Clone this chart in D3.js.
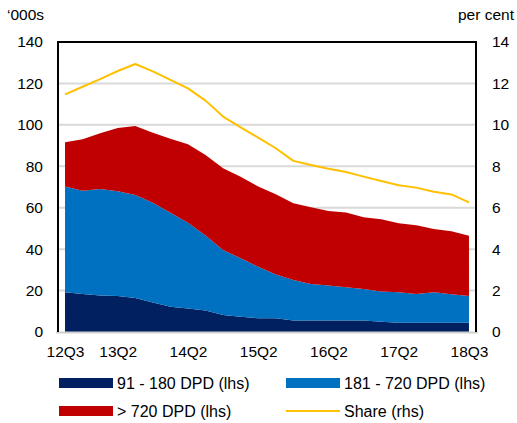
<!DOCTYPE html>
<html>
<head>
<meta charset="utf-8">
<script src="https://cdn.jsdelivr.net/npm/d3@7"></script>
<style>
  body { margin: 0; background: #fff; }
  text { font-family: "Liberation Sans", Arial, sans-serif; fill: #000; }
</style>
</head>
<body>
<svg id="chart"></svg>
<script>
// quarters shown on the chart (last point is labelled 18Q3 in the source)
const quarters = ["12Q3","12Q4","13Q1","13Q2","13Q3","13Q4","14Q1","14Q2","14Q3","14Q4",
  "15Q1","15Q2","15Q3","15Q4","16Q1","16Q2","16Q3","16Q4","17Q1","17Q2","17Q3","17Q4","18Q1","18Q3"];
const tickLabels = ["12Q3","13Q2","14Q2","15Q2","16Q2","17Q2","18Q3"];

// '000s, left axis
const dpd91to180 = [19.2,18.3,17.6,17.4,16.4,14.3,12.2,11.4,10.4,8.2,7.4,6.6,6.6,5.5,5.5,5.5,5.5,5.5,5.0,4.5,4.5,4.5,4.5,4.5];
const dpd181to720 = [51.0,49.9,51.4,50.6,49.7,48.1,45.4,41.4,36.2,31.4,28.2,24.9,21.2,19.6,17.7,16.9,16.1,15.3,14.5,14.7,13.8,14.7,13.7,12.9];
const dpdOver720 = [21.4,24.8,27.0,30.5,33.4,33.8,35.7,37.8,38.8,39.4,39.4,38.7,38.7,37.0,37.0,36.0,36.1,34.6,34.9,33.3,33.2,30.5,30.4,29.1];
// per cent, right axis
const share = [11.47,11.84,12.21,12.6,12.94,12.58,12.17,11.76,11.17,10.4,9.88,9.38,8.87,8.26,8.06,7.88,7.72,7.5,7.29,7.08,6.97,6.77,6.64,6.26];

const leftTicks = [0,20,40,60,80,100,120,140];
const rightTicks = [0,2,4,6,8,10,12,14];

const width = 517, height = 423;
const margin = { top: 42, right: 41, bottom: 91, left: 58 };
const plotW = width - margin.left - margin.right;
const plotH = height - margin.top - margin.bottom;

const colors = { navy: "#002060", blue: "#0070C0", red: "#C00000", share: "#FFC000" };

const svg = d3.select("#chart")
    .attr("width", width)
    .attr("height", height);

const g = svg.append("g")
    .attr("transform", `translate(${margin.left},${margin.top})`);

const x = d3.scalePoint()
    .domain(quarters)
    .range([0, plotW])
    .padding(0.4);

const yL = d3.scaleLinear().domain([0, 140]).range([plotH, 0]);
const yR = d3.scaleLinear().domain([0, 14]).range([plotH, 0]);

// gridlines
g.append("g")
    .selectAll("line")
    .data(leftTicks.filter(d => d > 0 && d < 140))
    .join("line")
    .attr("x1", 0).attr("x2", plotW)
    .attr("y1", d => yL(d)).attr("y2", d => yL(d))
    .attr("stroke", "#d9d9d9")
    .attr("stroke-width", 2);

// stacked areas
const table = quarters.map((q, i) => ({
    q: q,
    navy: dpd91to180[i],
    blue: dpd181to720[i],
    red: dpdOver720[i]
}));

const stack = d3.stack().keys(["navy", "blue", "red"]);
const series = stack(table);

const area = d3.area()
    .x(d => x(d.data.q))
    .y0(d => yL(d[0]))
    .y1(d => yL(d[1]));

g.append("g")
    .selectAll("path")
    .data(series)
    .join("path")
    .attr("fill", d => colors[d.key])
    .attr("d", area);

// share line
const line = d3.line()
    .x((d, i) => x(quarters[i]))
    .y(d => yR(d));

g.append("path")
    .datum(share)
    .attr("fill", "none")
    .attr("stroke", colors.share)
    .attr("stroke-width", 2)
    .attr("stroke-linejoin", "round")
    .attr("d", line);

// frame
g.append("line")
    .attr("x1", -2).attr("x2", plotW + 2)
    .attr("y1", plotH + 0.5).attr("y2", plotH + 0.5)
    .attr("stroke", "#d0d0d0").attr("stroke-width", 2);
g.append("path")
    .attr("d", `M0,${plotH} V0 H${plotW} V${plotH}`)
    .attr("fill", "none")
    .attr("stroke", "#000")
    .attr("stroke-width", 2);

// left axis labels
const leftAxis = d3.axisLeft(yL).tickValues(leftTicks).tickSize(0).tickPadding(15);
g.append("g").call(leftAxis)
    .call(s => s.select(".domain").remove())
    .selectAll("text")
    .attr("font-size", 15.5)
    .attr("font-family", "Liberation Sans, Arial, sans-serif")
    .attr("fill", "#000");

// right axis labels
const rightAxis = d3.axisRight(yR).tickValues(rightTicks).tickSize(0).tickPadding(16);
g.append("g")
    .attr("transform", `translate(${plotW},0)`)
    .call(rightAxis)
    .call(s => s.select(".domain").remove())
    .selectAll("text")
    .attr("font-size", 15.5)
    .attr("font-family", "Liberation Sans, Arial, sans-serif")
    .attr("fill", "#000");

// bottom axis labels
const bottomAxis = d3.axisBottom(x).tickValues(tickLabels).tickSize(0).tickPadding(14);
g.append("g")
    .attr("transform", `translate(0,${plotH})`)
    .call(bottomAxis)
    .call(s => s.select(".domain").remove())
    .selectAll("text")
    .attr("font-size", 15.5)
    .attr("font-family", "Liberation Sans, Arial, sans-serif")
    .attr("fill", "#000");

// unit titles
svg.append("text")
    .attr("x", 7).attr("y", 20)
    .attr("font-size", 15.5)
    .text("\u2018000s");
svg.append("text")
    .attr("x", 514).attr("y", 20)
    .attr("text-anchor", "end")
    .attr("font-size", 15.5)
    .attr("font-family", "Lato, sans-serif")
    .text("per cent");

// legend
const legendItems = [
    { label: "91 - 180 DPD (lhs)", color: colors.navy, type: "box", x: 59, y: 383 },
    { label: "181 - 720 DPD (lhs)", color: colors.blue, type: "box", x: 286, y: 383 },
    { label: "> 720 DPD (lhs)", color: colors.red, type: "box", x: 59, y: 411 },
    { label: "Share (rhs)", color: colors.share, type: "line", x: 286, y: 411 }
];

const legend = svg.append("g")
    .selectAll("g")
    .data(legendItems)
    .join("g")
    .attr("transform", d => `translate(${d.x},${d.y})`);

legend.filter(d => d.type === "box")
    .append("rect")
    .attr("x", 0).attr("y", -5)
    .attr("width", 54).attr("height", 10)
    .attr("fill", d => d.color);

legend.filter(d => d.type === "line")
    .append("line")
    .attr("x1", 0).attr("x2", 54)
    .attr("y1", 0).attr("y2", 0)
    .attr("stroke", d => d.color)
    .attr("stroke-width", 2);

legend.append("text")
    .attr("x", 58)
    .attr("dy", "0.35em")
    .attr("font-size", 16)
    .text(d => d.label);
</script>
</body>
</html>
